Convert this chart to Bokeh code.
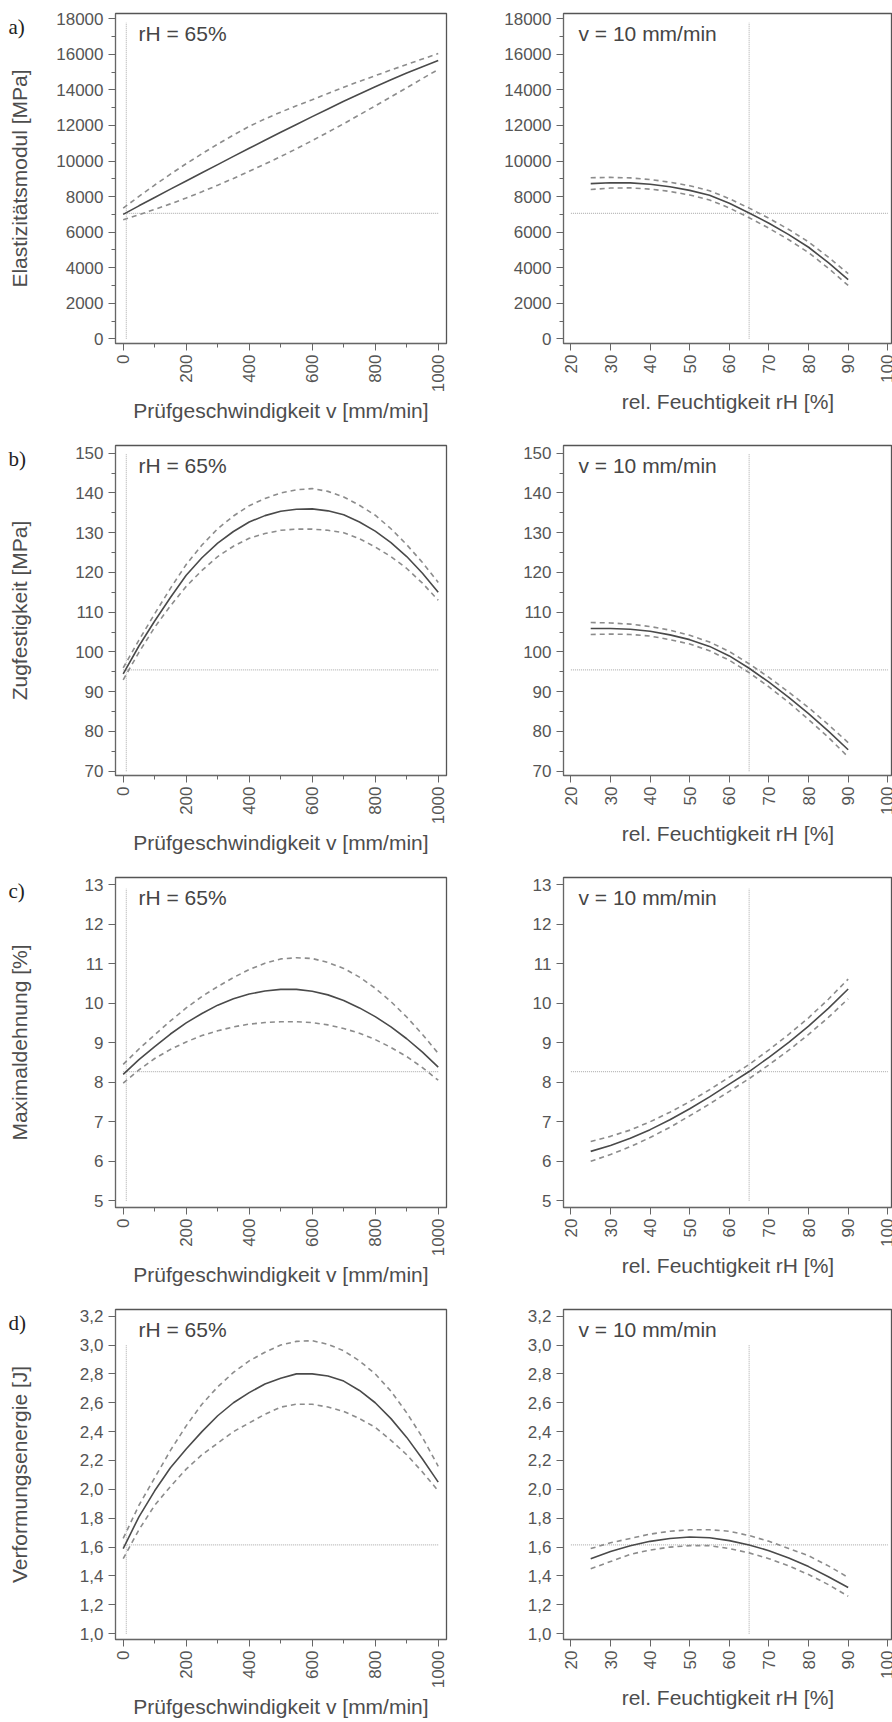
import math
from bokeh.plotting import figure
from bokeh.models import Label, Range1d, FixedTicker, CustomJSTickFormatter
from bokeh.core.properties import value
from bokeh.layouts import column, row
from bokeh.embed import file_html
from bokeh.resources import INLINE

# ---------------- data ----------------
v_x = [0, 50, 100, 150, 200, 250, 300, 350, 400, 450, 500,
       550, 600, 650, 700, 750, 800, 850, 900, 950, 1000]
rh_x = [25, 30, 35, 40, 45, 50, 55, 60, 65, 70, 75, 80, 85, 90]

v_ticks = [0, 200, 400, 600, 800, 1000]
v_minor = [0, 100, 200, 300, 400, 500, 600, 700, 800, 900, 1000]
rh_ticks = [20, 30, 40, 50, 60, 70, 80, 90, 100]

v_ref = 10          # mm/min
rh_ref = 65         # %
v_ref_span = [0, 1000]
rh_ref_span = [20, 100]

# a) Elastizitaetsmodul
a_v_fit = [7000, 7480, 7950, 8420, 8880, 9340, 9800, 10260, 10720, 11170, 11620,
           12060, 12500, 12930, 13360, 13770, 14180, 14570, 14950, 15310, 15650]
a_v_up = [7350, 8010, 8650, 9260, 9850, 10410, 10950, 11460, 11950, 12370, 12750,
          13110, 13450, 13800, 14150, 14480, 14800, 15120, 15430, 15740, 16050]
a_v_lo = [6700, 6980, 7280, 7590, 7920, 8270, 8640, 9020, 9420, 9830, 10250,
          10690, 11150, 11620, 12100, 12600, 13100, 13610, 14120, 14640, 15150]
a_rh_fit = [8730, 8780, 8770, 8690, 8550, 8350, 8070, 7620, 7080, 6500, 5860, 5150, 4280, 3330]
a_rh_up = [9060, 9080, 9050, 8960, 8810, 8610, 8330, 7880, 7350, 6780, 6150, 5450, 4590, 3660]
a_rh_lo = [8400, 8480, 8490, 8420, 8290, 8090, 7810, 7360, 6810, 6220, 5570, 4850, 3970, 3000]
a_ref = 7050
a_vspan = [0, 17800]
a_yticks = [0, 2000, 4000, 6000, 8000, 10000, 12000, 14000, 16000, 18000]
a_yminor = [0, 1000, 2000, 3000, 4000, 5000, 6000, 7000, 8000, 9000, 10000,
            11000, 12000, 13000, 14000, 15000, 16000, 17000, 18000]

# b) Zugfestigkeit
b_v_fit = [94.5, 101.5, 107.8, 113.7, 119.3, 123.7, 127.4, 130.3, 132.7, 134.3, 135.4,
           135.9, 136.0, 135.5, 134.5, 132.7, 130.4, 127.5, 124.0, 119.8, 115.0]
b_v_up = [96.0, 103.0, 109.6, 116.0, 122.0, 126.9, 131.0, 134.2, 136.8, 138.6, 140.0,
          140.8, 141.1, 140.4, 139.0, 136.9, 134.4, 131.0, 127.0, 122.5, 117.5]
b_v_lo = [93.0, 99.9, 106.2, 111.6, 116.5, 120.5, 124.0, 126.6, 128.6, 129.8, 130.6,
          130.9, 130.9, 130.6, 130.0, 128.5, 126.4, 124.0, 121.0, 117.3, 113.0]
b_rh_fit = [105.9, 105.9, 105.7, 105.2, 104.3, 103.1, 101.4, 99.0, 95.9, 92.4, 88.6, 84.5, 80.1, 75.4]
b_rh_up = [107.4, 107.3, 107.0, 106.4, 105.5, 104.2, 102.5, 100.1, 97.0, 93.6, 89.9, 86.0, 81.7, 77.2]
b_rh_lo = [104.4, 104.5, 104.4, 104.0, 103.1, 102.0, 100.3, 97.9, 94.8, 91.2, 87.3, 83.0, 78.5, 73.6]
b_ref = 95.5
b_vspan = [70, 150]
b_yticks = [70, 80, 90, 100, 110, 120, 130, 140, 150]
b_yminor = [70, 75, 80, 85, 90, 95, 100, 105, 110, 115, 120, 125, 130, 135, 140, 145, 150]

# c) Maximaldehnung
c_v_fit = [8.20, 8.57, 8.90, 9.22, 9.50, 9.74, 9.95, 10.11, 10.23, 10.31, 10.35,
           10.35, 10.30, 10.21, 10.07, 9.88, 9.66, 9.40, 9.10, 8.76, 8.38]
c_v_up = [8.45, 8.84, 9.20, 9.55, 9.88, 10.17, 10.42, 10.65, 10.85, 11.01, 11.12,
          11.15, 11.13, 11.03, 10.88, 10.66, 10.38, 10.04, 9.65, 9.21, 8.73]
c_v_lo = [7.98, 8.31, 8.60, 8.83, 9.02, 9.18, 9.30, 9.40, 9.47, 9.51, 9.53,
          9.53, 9.51, 9.45, 9.36, 9.24, 9.08, 8.88, 8.65, 8.37, 8.05]
c_rh_fit = [6.25, 6.40, 6.58, 6.80, 7.05, 7.33, 7.63, 7.95, 8.27, 8.63, 9.01, 9.42, 9.87, 10.36]
c_rh_up = [6.50, 6.63, 6.79, 7.00, 7.24, 7.51, 7.81, 8.13, 8.45, 8.82, 9.21, 9.63, 10.10, 10.61]
c_rh_lo = [6.00, 6.17, 6.37, 6.60, 6.86, 7.15, 7.45, 7.77, 8.09, 8.44, 8.81, 9.21, 9.64, 10.11]
c_ref = 8.27
c_vspan = [5.0, 12.9]
c_yticks = [5, 6, 7, 8, 9, 10, 11, 12, 13]
c_yminor = []

# d) Verformungsenergie
d_v_fit = [1.59, 1.81, 1.99, 2.15, 2.28, 2.40, 2.51, 2.60, 2.67, 2.73, 2.77,
           2.80, 2.80, 2.785, 2.75, 2.685, 2.60, 2.49, 2.36, 2.21, 2.05]
d_v_up = [1.66, 1.89, 2.08, 2.27, 2.44, 2.59, 2.71, 2.81, 2.89, 2.95, 3.00,
          3.025, 3.03, 3.005, 2.96, 2.89, 2.80, 2.68, 2.53, 2.36, 2.16]
d_v_lo = [1.52, 1.72, 1.89, 2.02, 2.14, 2.24, 2.32, 2.40, 2.46, 2.52, 2.57,
          2.59, 2.59, 2.57, 2.54, 2.49, 2.43, 2.34, 2.24, 2.12, 1.99]
d_rh_fit = [1.52, 1.57, 1.61, 1.64, 1.66, 1.67, 1.665, 1.645, 1.615, 1.575, 1.525, 1.465, 1.395, 1.32]
d_rh_up = [1.59, 1.63, 1.66, 1.69, 1.71, 1.72, 1.72, 1.71, 1.68, 1.64, 1.59, 1.54, 1.47, 1.39]
d_rh_lo = [1.45, 1.50, 1.55, 1.58, 1.60, 1.61, 1.61, 1.59, 1.56, 1.52, 1.47, 1.41, 1.34, 1.26]
d_ref = 1.615
d_vspan = [1.0, 3.0]
d_yticks = [1.0, 1.2, 1.4, 1.6, 1.8, 2.0, 2.2, 2.4, 2.6, 2.8, 3.0, 3.2]
d_yminor = []

row_letters = ["a)", "b)", "c)", "d)"]
y_labels = ["Elastizitätsmodul [MPa]", "Zugfestigkeit [MPa]", "Maximaldehnung [%]", "Verformungsenergie [J]"]
x_label_v = "Prüfgeschwindigkeit v [mm/min]"
x_label_rh = "rel. Feuchtigkeit rH [%]"
note_v = "rH = 65%"
note_rh = "v = 10 mm/min"

# ---------------- styling ----------------
SANS = "Liberation Sans"
TXT = "#4d4d4d"
FIT_C = "#4a4a4a"
CI_C = "#8c8c8c"
REF_C = "#b8b8b8"

y_ranges = [(-265, 18300), (68.92, 151.94), (4.83, 13.18), (0.96, 3.246)]
FRAME_H = 330
TOP = 13
STRIP_W = 34          # strip holding the row letter and the y-axis title


def style_axes(p, xticks, xminor, yticks, yminor, comma):
    for ax in p.xaxis + p.yaxis:
        ax.axis_line_color = "#666666"
        ax.axis_line_width = 1
        ax.major_tick_line_color = "#666666"
        ax.minor_tick_line_color = "#666666"
        ax.major_tick_in = 0
        ax.major_tick_out = 7
        ax.minor_tick_in = 0
        ax.minor_tick_out = 4
        ax.major_label_text_font = SANS
        ax.major_label_text_font_size = "17px"
        ax.major_label_text_color = "#555555"
        ax.axis_label_text_font = SANS
        ax.axis_label_text_font_size = "21px"
        ax.axis_label_text_font_style = "normal"
        ax.axis_label_text_color = TXT
    p.xaxis.ticker = FixedTicker(ticks=xticks, minor_ticks=xminor)
    p.yaxis.ticker = FixedTicker(ticks=yticks, minor_ticks=yminor)
    p.xaxis.major_label_orientation = math.pi / 2
    p.xaxis.major_label_standoff = 4
    p.xaxis.axis_label_standoff = 4
    p.yaxis.major_label_standoff = 5
    if comma:
        p.yaxis.formatter = CustomJSTickFormatter(code="return tick.toFixed(1).replace('.', ',');")


def make_strip(i, bottom):
    # a narrow strip with the same vertical frame as the panels; its y range is in pixels
    f = figure(frame_width=STRIP_W, frame_height=FRAME_H,
               x_range=Range1d(0, STRIP_W), y_range=Range1d(0, FRAME_H),
               x_axis_type=None, y_axis_type=None,
               output_backend="svg", toolbar_location=None,
               min_border_left=0, min_border_right=0,
               min_border_top=TOP, min_border_bottom=bottom)
    f.grid.visible = False
    f.outline_line_color = None
    f.background_fill_color = "white"
    f.border_fill_color = "white"
    f.text(x=[8], y=[FRAME_H - 1], text=[row_letters[i]],
           text_font=value("Liberation Serif"), text_font_size="21px",
           text_color="#222222", text_baseline="top", text_align="left")
    f.text(x=[19], y=[FRAME_H / 2], text=[y_labels[i]],
           angle=math.pi / 2, text_font=value(SANS), text_font_size="21px",
           text_color=TXT, text_baseline="middle", text_align="center")
    return f


def make_panel(i, left, xs, fit, up, lo, ref_val, vspan, yticks, yminor, bottom):
    if left:
        xr = Range1d(-24.4, 1026.3)
        fw, bl, br = 331, 115 - STRIP_W, 12
    else:
        xr = Range1d(18.13, 101.19)
        fw, bl, br = 329, 105, 0
    p = figure(frame_width=fw, frame_height=FRAME_H, x_range=xr,
               y_range=Range1d(*y_ranges[i]), output_backend="svg",
               toolbar_location=None, min_border_left=bl, min_border_right=br,
               min_border_top=TOP, min_border_bottom=bottom)
    p.grid.visible = False
    p.outline_line_color = "#555555"
    p.outline_line_width = 1.3
    p.background_fill_color = "white"
    p.border_fill_color = "white"

    # reference lines
    ref_x = v_ref if left else rh_ref
    span = v_ref_span if left else rh_ref_span
    p.line(span, [ref_val, ref_val], line_color=REF_C, line_width=1.2, line_dash="1 1")
    p.line([ref_x, ref_x], vspan, line_color=REF_C, line_width=1.2, line_dash="1 1")

    # confidence band and fit
    p.line(xs, up, line_color=CI_C, line_width=1.6, line_dash="5 4")
    p.line(xs, lo, line_color=CI_C, line_width=1.6, line_dash="5 4")
    p.line(xs, fit, line_color=FIT_C, line_width=1.6)

    style_axes(p, v_ticks if left else rh_ticks, v_minor if left else [],
               yticks, yminor, comma=(i == 3))
    if left:
        p.xaxis.axis_label = x_label_v
        note, nx = note_v, 23
    else:
        p.xaxis.axis_label = x_label_rh
        note, nx = note_rh, 15
    p.add_layout(Label(x=nx, y=FRAME_H - 8, x_units="screen", y_units="screen",
                       text=note, text_font=SANS, text_font_size="21px",
                       text_color="#454545", text_baseline="top", text_align="left"))
    return p


rows_data = [
    (a_v_fit, a_v_up, a_v_lo, a_rh_fit, a_rh_up, a_rh_lo, a_ref, a_vspan, a_yticks, a_yminor),
    (b_v_fit, b_v_up, b_v_lo, b_rh_fit, b_rh_up, b_rh_lo, b_ref, b_vspan, b_yticks, b_yminor),
    (c_v_fit, c_v_up, c_v_lo, c_rh_fit, c_rh_up, c_rh_lo, c_ref, c_vspan, c_yticks, c_yminor),
    (d_v_fit, d_v_up, d_v_lo, d_rh_fit, d_rh_up, d_rh_lo, d_ref, d_vspan, d_yticks, d_yminor),
]

rows = []
for i, (vf, vu, vl, rf, ru, rl, ref, vs, yt, ym) in enumerate(rows_data):
    bottom = 82 if i == 3 else 89
    strip = make_strip(i, bottom)
    pl = make_panel(i, True, v_x, vf, vu, vl, ref, vs, yt, ym, bottom)
    pr = make_panel(i, False, rh_x, rf, ru, rl, ref, vs, yt, ym, bottom)
    rows.append(row(strip, pl, pr))

layout = column(*rows)
open("out.html", "w").write(file_html(layout, INLINE))
